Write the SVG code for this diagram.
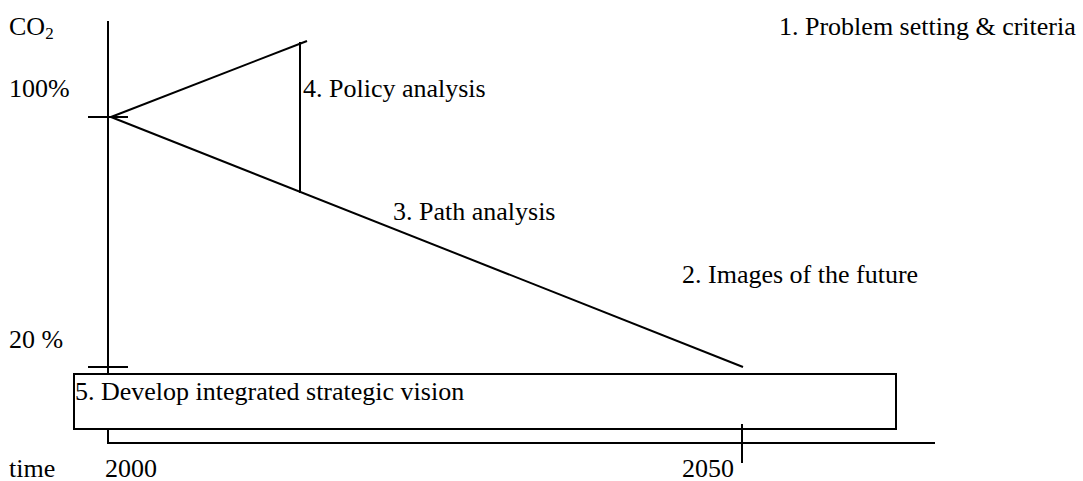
<svg xmlns="http://www.w3.org/2000/svg" width="1083" height="481" viewBox="0 0 1083 481">
  <style>
    text { font-family: "Liberation Serif", "Times New Roman", serif; font-size: 26px; fill: #000; }
    .ln { stroke: #000; stroke-width: 2; fill: none; }
    .box { stroke: #000; stroke-width: 2; fill: #fff; }
  </style>
  <rect width="1083" height="481" fill="#fff"/>

  <!-- axes and ticks -->
  <g id="axes">
    <line class="ln" x1="108" y1="21" x2="108" y2="443"/>
    <line class="ln" x1="107" y1="443" x2="935" y2="443"/>
    <line class="ln" x1="88" y1="117" x2="128" y2="117"/>
    <line class="ln" x1="88" y1="367" x2="128" y2="367"/>
  </g>

  <!-- policy / path triangle -->
  <g id="connectors">
    <line class="ln" x1="111" y1="117" x2="307" y2="41"/>
    <line class="ln" x1="111" y1="117" x2="743" y2="367"/>
    <line class="ln" x1="300" y1="42" x2="300" y2="193"/>
  </g>

  <g id="vision">
    <rect class="box" x="74" y="374" width="822" height="55"/>
    <text x="75" y="400">5. Develop integrated strategic vision</text>
  </g>

  <!-- 2050 tick sits over the box edge -->
  <line class="ln" x1="742" y1="424" x2="742" y2="463"/>

  <g id="labels">
    <text x="9" y="35">CO<tspan font-size="17" dy="4">2</tspan></text>
    <text x="9" y="97">100%</text>
    <text x="9" y="348">20 %</text>
    <text x="9" y="477">time</text>
    <text x="105" y="477">2000</text>
    <text x="682" y="477">2050</text>
  </g>

  <g id="step1"><text x="779" y="35">1. Problem setting &amp; criteria</text></g>
  <g id="step2"><text x="682" y="283">2. Images of the future</text></g>
  <g id="step3"><text x="393" y="220">3. Path analysis</text></g>
  <g id="step4"><text x="303" y="97">4. Policy analysis</text></g>
</svg>
